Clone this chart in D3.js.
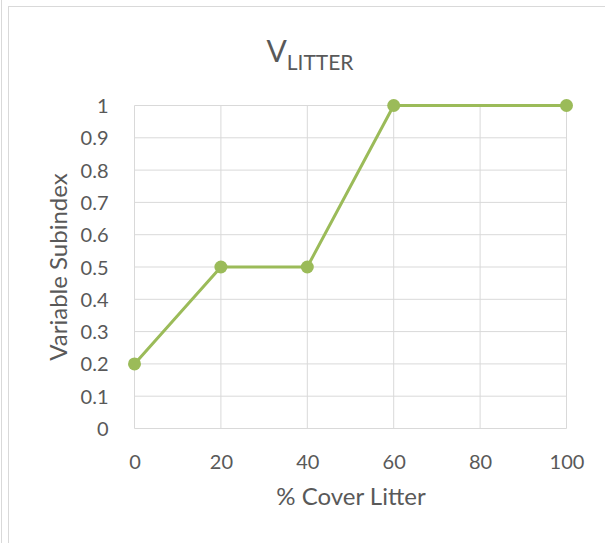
<!DOCTYPE html>
<html>
<head>
<meta charset="utf-8">
<script src="https://cdn.jsdelivr.net/npm/d3@7"></script>
<style>
  body { margin: 0; background: #fff; }
  svg text { font-family: Lato, "Open Sans", sans-serif; fill: #595959; }
</style>
</head>
<body>
<div id="chart"></div>
<script>
const coverX = [0, 20, 40, 60, 100];
const subindexY = [0.2, 0.5, 0.5, 1, 1];
const xTicks = [0, 20, 40, 60, 80, 100];
const yTicks = [0, 0.1, 0.2, 0.3, 0.4, 0.5, 0.6, 0.7, 0.8, 0.9, 1];

const width = 605, height = 543;
const svg = d3.select("#chart").append("svg")
  .attr("width", width)
  .attr("height", height);

// chart frame (runs past the window on right and bottom)
svg.append("line")
  .attr("x1", 1.5).attr("x2", 1.5).attr("y1", 0).attr("y2", height)
  .attr("stroke", "#d9d9d9");
svg.append("rect")
  .attr("x", 8.5).attr("y", 6.5)
  .attr("width", width).attr("height", height)
  .attr("fill", "none")
  .attr("stroke", "#d9d9d9");

const x = d3.scaleLinear().domain([0, 100]).range([134.5, 566.5]);
const y = d3.scaleLinear().domain([0, 1]).range([428.5, 105.5]);

// gridlines
svg.append("g")
  .selectAll("line")
  .data(yTicks)
  .join("line")
  .attr("x1", x(0)).attr("x2", x(100))
  .attr("y1", d => y(d)).attr("y2", d => y(d))
  .attr("stroke", "#d9d9d9");

svg.append("g")
  .selectAll("line")
  .data(xTicks)
  .join("line")
  .attr("x1", d => x(d)).attr("x2", d => x(d))
  .attr("y1", y(0)).attr("y2", y(1))
  .attr("stroke", "#d9d9d9");

// axes
const yAxis = svg.append("g")
  .attr("transform", "translate(" + (x(0) - 23) + ",0)")
  .call(d3.axisLeft(y).tickValues(yTicks).tickSize(0).tickFormat(d3.format("~g")));
yAxis.select(".domain").remove();
yAxis.selectAll("text")
  .attr("dy", "0.35em");

const xAxis = svg.append("g")
  .attr("transform", "translate(0," + (y(0) + 23) + ")")
  .call(d3.axisBottom(x).tickValues(xTicks).tickSize(0));
xAxis.select(".domain").remove();
xAxis.selectAll("text")
  .attr("dy", "0.71em");

svg.selectAll(".tick text")
  .attr("font-size", "20px")
  .attr("fill", "#595959");

// axis titles
svg.append("text")
  .attr("x", 351)
  .attr("y", 505)
  .attr("text-anchor", "middle")
  .attr("font-size", "24px")
  .text("% Cover Litter");

svg.append("text")
  .attr("transform", "rotate(-90)")
  .attr("x", -267)
  .attr("y", 67)
  .attr("text-anchor", "middle")
  .attr("font-size", "24px")
  .text("Variable Subindex");

// title
const title = svg.append("text")
  .attr("x", 310)
  .attr("y", 62)
  .attr("text-anchor", "middle");
title.append("tspan").attr("font-size", "30px").text("V");
title.append("tspan").attr("font-size", "21px").attr("dy", "8").text("LITTER");

// series
const pts = coverX.map((c, i) => ({ c, v: subindexY[i] }));
const line = d3.line().x(d => x(d.c)).y(d => y(d.v));

svg.append("path")
  .datum(pts)
  .attr("fill", "none")
  .attr("stroke", "#9bbb59")
  .attr("stroke-width", 3)
  .attr("stroke-linejoin", "round")
  .attr("d", line);

svg.append("g")
  .selectAll("circle")
  .data(pts)
  .join("circle")
  .attr("cx", d => x(d.c))
  .attr("cy", d => y(d.v))
  .attr("r", 6.5)
  .attr("fill", "#9bbb59");
</script>
</body>
</html>
